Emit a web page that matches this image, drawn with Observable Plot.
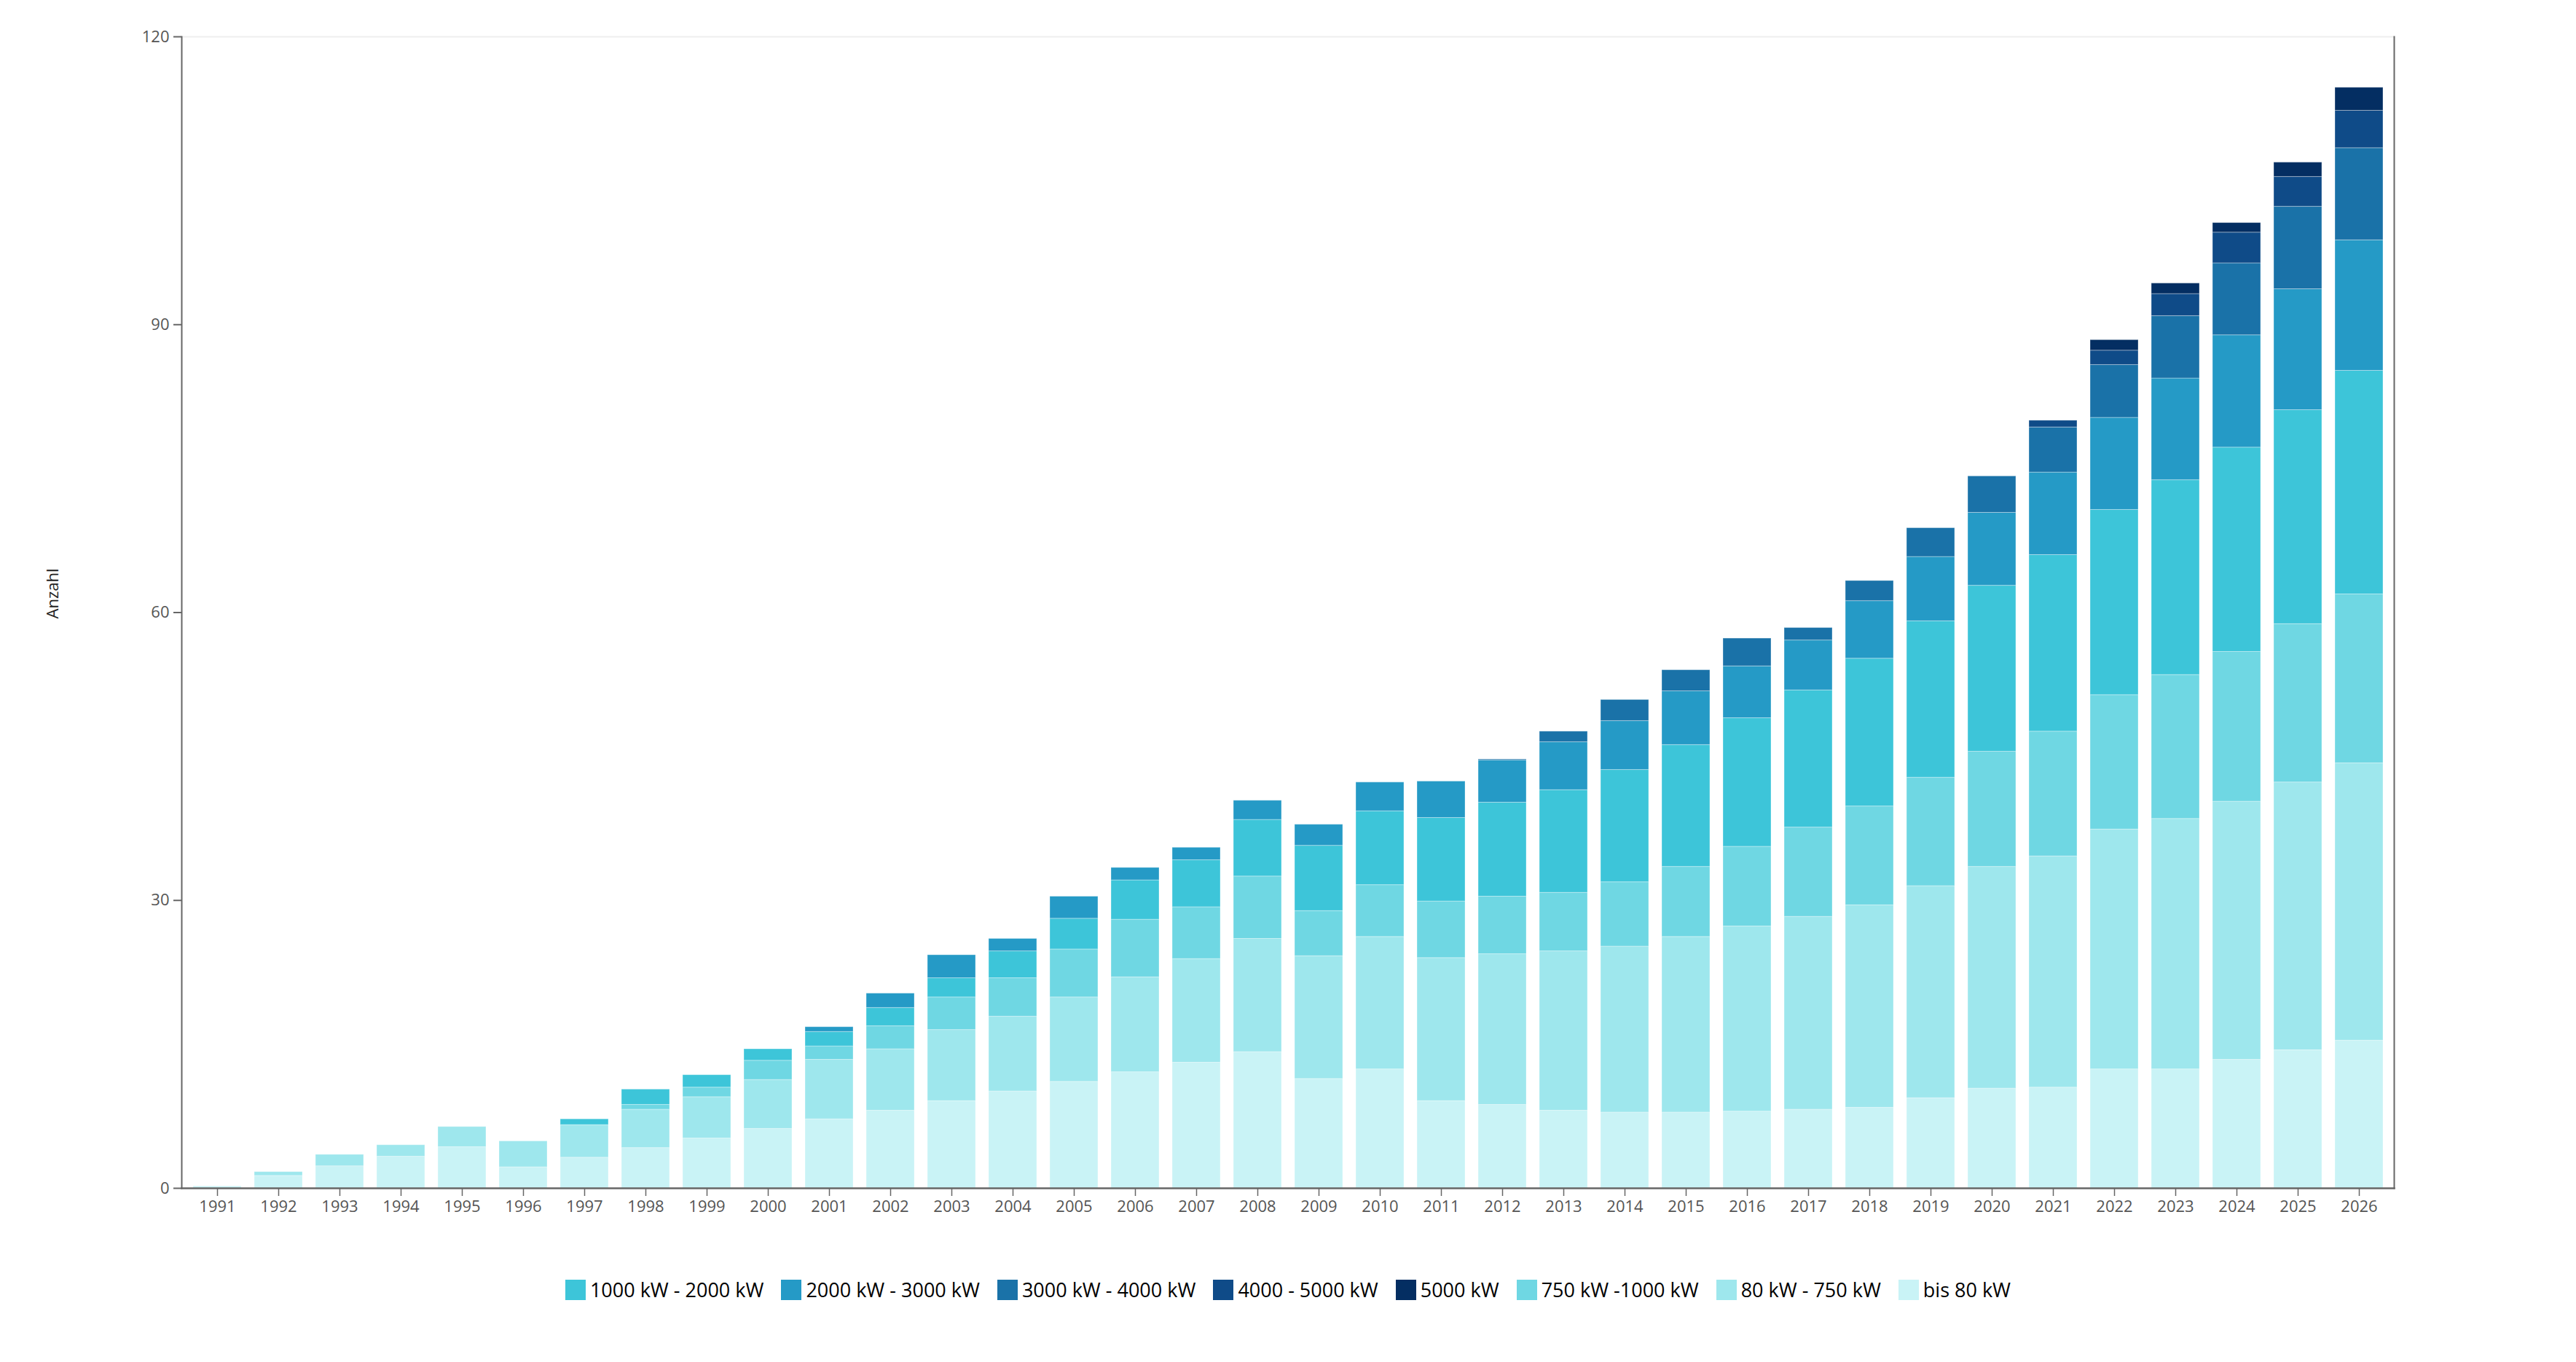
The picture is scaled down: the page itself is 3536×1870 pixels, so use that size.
<!DOCTYPE html>
<html>
<head>
<meta charset="utf-8">
<script src="https://cdn.jsdelivr.net/npm/d3@7"></script>
<script src="https://cdn.jsdelivr.net/npm/@observablehq/plot@0.6"></script>
<style>
  html, body { margin: 0; padding: 0; background: #fff; }
  body { font-family: "Open Sans", "Noto Sans", sans-serif; width: 3536px; }
  #legend { display: flex; justify-content: center; align-items: center; gap: 24px; margin-top: 32px; font-size: 27px; color: #000; }
  #legend .item { display: flex; align-items: center; gap: 6px; }
  #legend .sw { width: 28px; height: 28px; display: inline-block; }
</style>
</head>
<body>
<div id="chart"></div>
<div id="legend"></div>
<script>
const years = [1991,1992,1993,1994,1995,1996,1997,1998,1999,2000,2001,2002,2003,2004,2005,2006,2007,2008,2009,2010,2011,2012,2013,2014,2015,2016,2017,2018,2019,2020,2021,2022,2023,2024,2025,2026];

const seriesNames = ["bis 80 kW", "80 kW - 750 kW", "750 kW -1000 kW", "1000 kW - 2000 kW", "2000 kW - 3000 kW", "3000 kW - 4000 kW", "4000 - 5000 kW", "5000 kW"];
const seriesColors = ["#c9f3f6", "#9ee7ed", "#6fd7e3", "#3dc5d9", "#259ac6", "#1a72a8", "#0f4b88", "#042e62"];
const legendOrder = ["1000 kW - 2000 kW", "2000 kW - 3000 kW", "3000 kW - 4000 kW", "4000 - 5000 kW", "5000 kW", "750 kW -1000 kW", "80 kW - 750 kW", "bis 80 kW"];

const bis80      = [0.2,1.3,2.3,3.3,4.3,2.2,3.2,4.2,5.2,6.2,7.2,8.1,9.1,10.1,11.1,12.1,13.1,14.2,11.4,12.4,9.1,8.7,8.1,7.9,7.9,8.0,8.2,8.4,9.4,10.4,10.5,12.4,12.4,13.4,14.4,15.4];
const kw80_750   = [0,0.4,1.2,1.2,2.1,2.7,3.4,4.0,4.3,5.1,6.2,6.4,7.4,7.8,8.8,9.9,10.8,11.8,12.8,13.8,14.9,15.7,16.6,17.3,18.3,19.3,20.1,21.1,22.1,23.1,24.1,25.0,26.1,26.9,27.9,28.9];
const kw750_1000 = [0,0,0,0,0,0,0,0.5,1.0,2.0,1.4,2.4,3.4,4.0,5.0,6.0,5.4,6.5,4.7,5.4,5.9,6.0,6.1,6.7,7.3,8.3,9.3,10.3,11.3,12.0,13.0,14.0,15.0,15.6,16.5,17.6];
const kw1000_2000= [0,0,0,0,0,0,0.6,1.6,1.3,1.2,1.5,1.9,2.0,2.8,3.2,4.1,4.9,5.9,6.8,7.7,8.7,9.8,10.7,11.7,12.7,13.4,14.3,15.4,16.3,17.3,18.4,19.3,20.3,21.3,22.3,23.3];
const kw2000_3000= [0,0,0,0,0,0,0,0,0,0,0.5,1.5,2.4,1.3,2.3,1.3,1.3,2.0,2.2,3.0,3.8,4.4,5.0,5.1,5.6,5.4,5.2,6.0,6.7,7.6,8.6,9.6,10.6,11.7,12.6,13.6];
const kw3000_4000= [0,0,0,0,0,0,0,0,0,0,0,0,0,0,0,0,0,0,0,0,0,0.1,1.1,2.2,2.2,2.9,1.3,2.1,3.0,3.8,4.7,5.5,6.5,7.5,8.6,9.6];
const kw4000_5000= [0,0,0,0,0,0,0,0,0,0,0,0,0,0,0,0,0,0,0,0,0,0,0,0,0,0,0,0,0,0,0.7,1.5,2.3,3.2,3.1,3.9];
const kw5000     = [0,0,0,0,0,0,0,0,0,0,0,0,0,0,0,0,0,0,0,0,0,0,0,0,0,0,0,0,0,0,0,1.1,1.1,1.0,1.5,2.4];

const yTicks = [0, 30, 60, 90, 120];
const yLabel = "Anzahl";

const seriesValues = [bis80, kw80_750, kw750_1000, kw1000_2000, kw2000_3000, kw3000_4000, kw4000_5000, kw5000];
const data = [];
seriesNames.forEach((name, si) => {
  years.forEach((yr, i) => {
    const v = seriesValues[si][i];
    if (v > 0) data.push({year: yr, series: name, value: v});
  });
});

const chart = Plot.plot({
  width: 3536,
  height: 1720,
  marginLeft: 249,
  marginRight: 250,
  marginTop: 50,
  marginBottom: 89,
  style: {fontFamily: "'Open Sans', 'Noto Sans', sans-serif", background: "#fff"},
  x: {type: "band", domain: years, paddingInner: 0.22, paddingOuter: 0.11},
  y: {domain: [0, 120]},
  color: {domain: seriesNames, range: seriesColors},
  marks: [
    Plot.ruleY([120], {stroke: "#eeeeee", strokeWidth: 2}),
    Plot.barY(data, {x: "year", y: "value", fill: "series", z: "series", order: seriesNames, stroke: "#ffffff", strokeOpacity: 0.35, strokeWidth: 1}),
    Plot.frame({anchor: "left", stroke: "#666", strokeWidth: 2}),
    Plot.frame({anchor: "right", stroke: "#666", strokeWidth: 2}),
    Plot.frame({anchor: "bottom", stroke: "#666", strokeWidth: 2.5}),
    Plot.axisY({ticks: yTicks, tickSize: 11, tickPadding: 6, fontSize: 22, fill: "#555", stroke: "#666", strokeWidth: 2, label: null}),
    Plot.axisX({tickSize: 11, tickPadding: 6, fontSize: 22, fill: "#555", stroke: "#666", strokeWidth: 1.5, tickFormat: d => String(d), label: null}),
    Plot.text([yLabel], {frameAnchor: "left", dx: -177, dy: -26, rotate: -90, text: d => d, fontSize: 22, fill: "#222", textAnchor: "middle"})
  ]
});
document.getElementById("chart").appendChild(chart);

const legend = document.getElementById("legend");
legendOrder.forEach(name => {
  const item = document.createElement("div");
  item.className = "item";
  const sw = document.createElement("span");
  sw.className = "sw";
  sw.style.background = seriesColors[seriesNames.indexOf(name)];
  const lab = document.createElement("span");
  lab.textContent = name;
  item.appendChild(sw);
  item.appendChild(lab);
  legend.appendChild(item);
});
</script>
</body>
</html>
